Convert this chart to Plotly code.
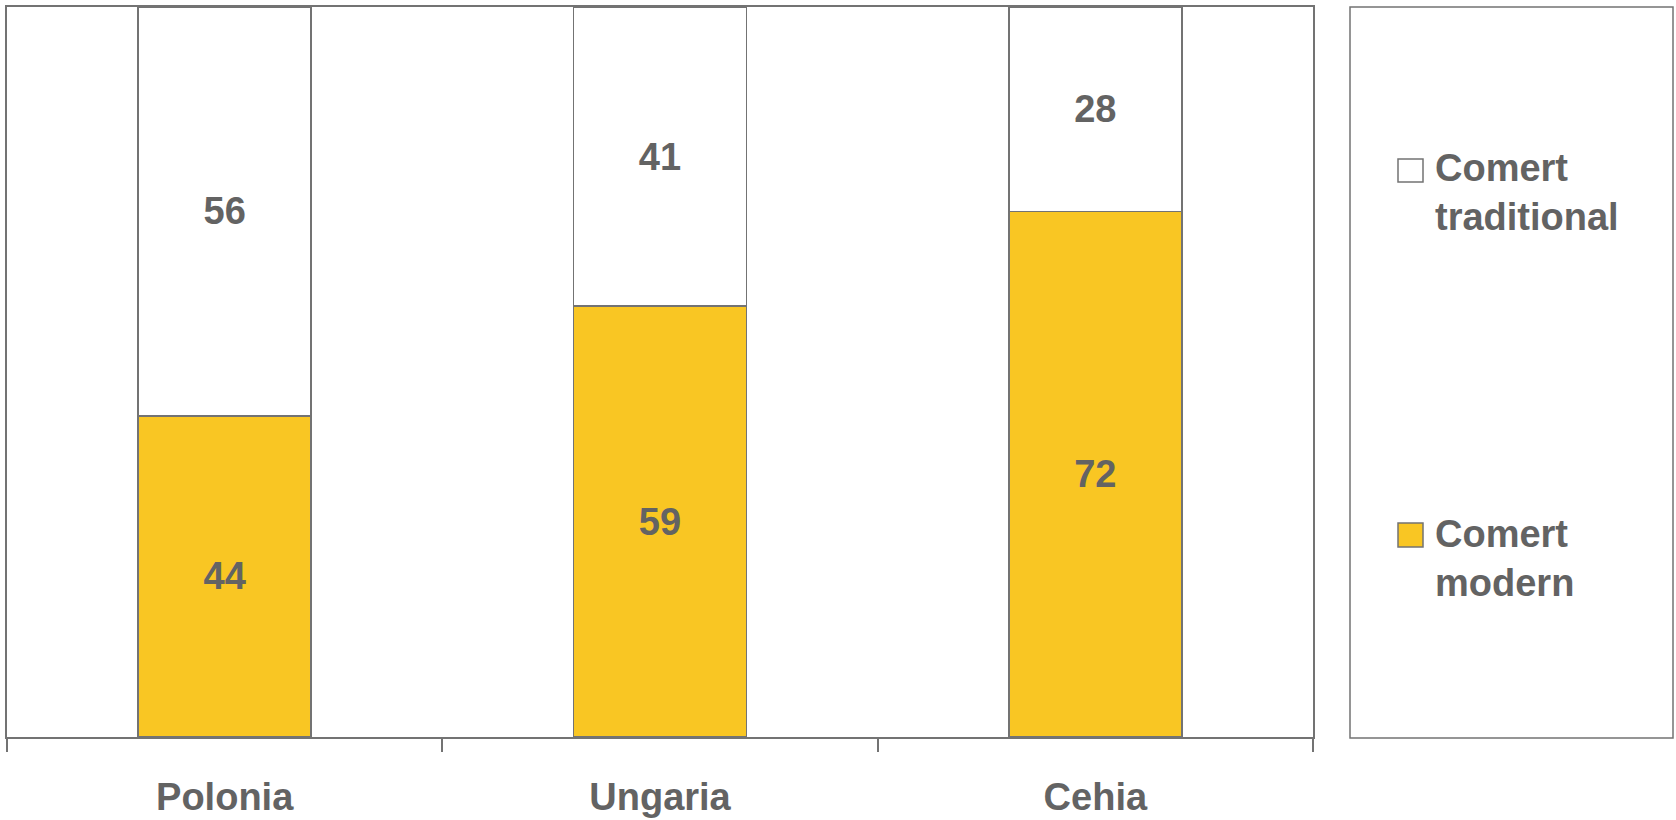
import plotly.graph_objects as go

# ---- data ----
categories = ["Polonia", "Ungaria", "Cehia"]
series_names = ["Comert modern", "Comert traditional"]
modern_values = [44, 59, 72]
traditional_values = [56, 41, 28]
series_colors = ["#F9C623", "#FFFFFF"]

W, H = 1676, 820
L, T, R, B = 7, 7, 1313, 737  # plot area pixel bounds

TEXT = "#636363"
LINE = "#737373"
FONT = "Liberation Sans, Arial, sans-serif"


def px_x(x):
    return (x - L) / (R - L)


def px_y(y):
    return (B - y) / (B - T)


fig = go.Figure()
for name, vals, col in [
    (series_names[0], modern_values, series_colors[0]),
    (series_names[1], traditional_values, series_colors[1]),
]:
    fig.add_trace(go.Bar(
        x=categories, y=vals, name=name,
        marker=dict(color=col, line=dict(color=LINE, width=1.7)),
        text=vals, texttemplate="%{text}",
        textposition="inside", insidetextanchor="middle", textangle=0,
        textfont=dict(family=FONT, size=38, color=TEXT, weight="bold"),
        showlegend=False, hoverinfo="x+y+name",
    ))

# manual legend (box, swatches, labels)
shapes = [dict(type="rect", xref="paper", yref="paper",
               x0=px_x(1350), x1=px_x(1673), y0=px_y(738), y1=px_y(7),
               line=dict(color=LINE, width=1.5), fillcolor="rgba(0,0,0,0)")]
annotations = []
legend_items = [
    (series_names[1], series_colors[1], 159, 182, 192),
    (series_names[0], series_colors[0], 523, 547, 558),
]
for name, col, sy0, sy1, ty in legend_items:
    shapes.append(dict(type="rect", xref="paper", yref="paper",
                       x0=px_x(1398), x1=px_x(1423), y0=px_y(sy1), y1=px_y(sy0),
                       line=dict(color=LINE, width=1.5), fillcolor=col))
    annotations.append(dict(
        xref="paper", yref="paper", x=px_x(1433), y=px_y(ty),
        xanchor="left", yanchor="middle", align="left", showarrow=False,
        text=name.replace(" ", "<br>"),
        font=dict(family=FONT, size=38, color=TEXT, weight="bold"),
    ))

fig.update_layout(
    width=W, height=H,
    margin=dict(l=L, r=W - R, t=T, b=H - B, pad=0, autoexpand=False),
    barmode="stack", bargap=0.603,
    plot_bgcolor="white", paper_bgcolor="white",
    shapes=shapes, annotations=annotations,
    showlegend=False,
    xaxis=dict(
        type="category", categoryorder="array", categoryarray=categories,
        showline=True, linecolor=LINE, linewidth=1.5, mirror=True,
        ticks="outside", tickson="boundaries", ticklen=13, tickwidth=1.5, tickcolor=LINE,
        showgrid=False, zeroline=False, automargin=False,
        tickfont=dict(family=FONT, size=38, color=TEXT, weight="bold"),
        ticklabelstandoff=26,
    ),
    yaxis=dict(
        range=[0, 100], showline=True, linecolor=LINE, linewidth=1.5, mirror=True,
        showticklabels=False, ticks="", showgrid=False, zeroline=False, automargin=False,
    ),
)

fig.write_html("out.html")
